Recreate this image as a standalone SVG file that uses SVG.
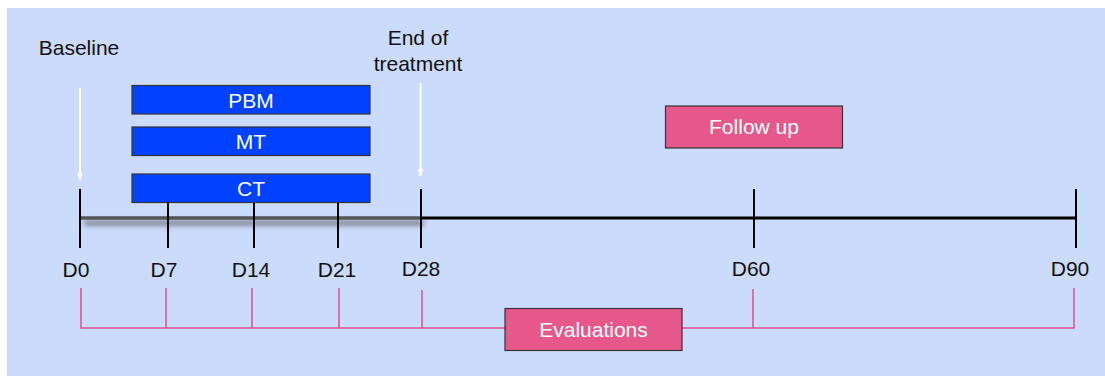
<svg xmlns="http://www.w3.org/2000/svg" width="1105" height="376" viewBox="0 0 1105 376">
<defs>
<style>
.lbl{font-family:"Liberation Sans",Arial,sans-serif;font-size:21px;fill:#111;text-anchor:middle}
.wt{font-family:"Liberation Sans",Arial,sans-serif;font-size:21px;fill:#fff;text-anchor:middle}
.blue{fill:#0042ff;stroke:#333;stroke-width:1.2}
.pink{fill:#e6588a;stroke:#333;stroke-width:1.2}
.tick{stroke:#000;stroke-width:2}
.ev{stroke:#e0508a;stroke-width:1.5;fill:none}
.warr{stroke:#fff;stroke-width:2}
</style>
<marker id="wh" viewBox="0 0 10 10" refX="9" refY="5" markerWidth="8" markerHeight="6" orient="auto" markerUnits="userSpaceOnUse" preserveAspectRatio="none">
<path d="M0,0 L10,5 L0,10 Z" fill="#fff"/>
</marker>
<filter id="sh" filterUnits="userSpaceOnUse" x="60" y="200" width="390" height="50">
<feGaussianBlur stdDeviation="2.5"/>
</filter>
</defs>
<rect x="7" y="8" width="1098" height="368" fill="#cbdbfb"/>

<g id="connectors">
<line x1="84" y1="223" x2="424" y2="223" stroke="#444" stroke-width="5" filter="url(#sh)" opacity="0.6"/>
<line x1="421" y1="218" x2="1076" y2="218" stroke="#000" stroke-width="3"/>
<line x1="80" y1="218" x2="421" y2="218" stroke="#555" stroke-width="3.5"/>
<line class="tick" x1="80" y1="189" x2="80" y2="248"/>
<line class="tick" x1="168" y1="203" x2="168" y2="248"/>
<line class="tick" x1="254" y1="203" x2="254" y2="248"/>
<line class="tick" x1="338" y1="203" x2="338" y2="248"/>
<line class="tick" x1="421" y1="189" x2="421" y2="248"/>
<line class="tick" x1="754" y1="189" x2="754" y2="248"/>
<line class="tick" x1="1076" y1="189" x2="1076" y2="248"/>
<line class="warr" x1="80" y1="88" x2="80" y2="180" marker-end="url(#wh)"/>
<line class="warr" x1="420.5" y1="83" x2="420.5" y2="176" marker-end="url(#wh)"/>
<path class="ev" d="M81,288 V328 H1074 V288 M166,288 V328 M252,288 V328 M339,288 V328 M422,290 V328 M753,289 V328"/>
</g>

<g id="baseline"><text class="lbl" x="79" y="55">Baseline</text></g>
<g id="end"><text class="lbl" x="418" y="45">End of</text><text class="lbl" x="418" y="71">treatment</text></g>

<g id="pbm"><rect class="blue" x="132" y="85.5" width="238" height="28.5"/><text class="wt" x="251" y="108">PBM</text></g>
<g id="mt"><rect class="blue" x="132" y="127" width="238" height="28.5"/><text class="wt" x="251" y="149">MT</text></g>
<g id="ct"><rect class="blue" x="132" y="174" width="238" height="28.5"/><text class="wt" x="251" y="196">CT</text></g>

<g id="followup"><rect class="pink" x="665.5" y="106" width="177" height="42"/><text class="wt" x="754" y="134">Follow up</text></g>
<g id="evaluations"><rect class="pink" x="505" y="308.5" width="177" height="42"/><text class="wt" x="593.5" y="337">Evaluations</text></g>

<g id="labels">
<text class="lbl" x="76" y="277">D0</text>
<text class="lbl" x="164" y="277">D7</text>
<text class="lbl" x="251" y="277">D14</text>
<text class="lbl" x="337" y="277">D21</text>
<text class="lbl" x="421" y="276">D28</text>
<text class="lbl" x="751" y="276">D60</text>
<text class="lbl" x="1070" y="276">D90</text>
</g>
</svg>
